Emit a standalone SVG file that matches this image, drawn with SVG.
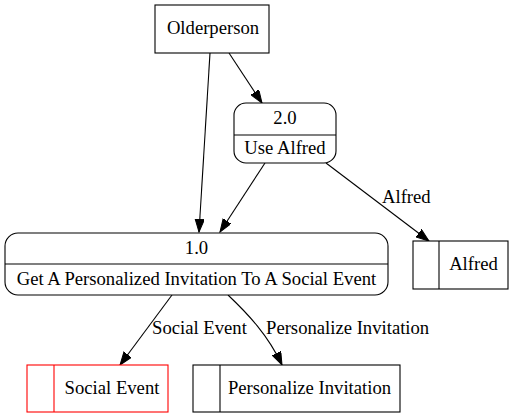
<svg xmlns="http://www.w3.org/2000/svg" width="514" height="419" viewBox="0 0 514 419" font-family="'Liberation Serif', 'DejaVu Serif', serif" font-size="18.67">
<style>
.t{font-family:"Liberation Serif","DejaVu Serif",serif;font-size:18.67px;fill:#000}
.n{fill:#fff;stroke:#000;stroke-width:1.1}
.e{fill:none;stroke:#000;stroke-width:1.1}
.ah{fill:#000;stroke:#000;stroke-width:1}
</style>
<defs>
<marker id="arr" markerWidth="14" markerHeight="10" refX="13" refY="4.7" orient="auto" markerUnits="userSpaceOnUse">
<polygon points="0,0 13,4.7 0,9.4" class="ah"/>
</marker>
</defs>
<rect width="514" height="419" fill="#fff"/>
<g id="connectors">
<path class="e" d="M210,53 L199,232" marker-end="url(#arr)"/>
<path class="e" d="M229,53 L262,103" marker-end="url(#arr)"/>
<path class="e" d="M265,163 L220,232" marker-end="url(#arr)"/>
<path class="e" d="M326,163 L429,241" marker-end="url(#arr)"/>
<text class="t" x="382" y="203">Alfred</text>
<path class="e" d="M172,295 L120,365" marker-end="url(#arr)"/>
<text class="t" x="152" y="334">Social Event</text>
<path class="e" d="M228,295 C248,314 268,335 282,365" marker-end="url(#arr)"/>
<text class="t" x="266" y="334">Personalize Invitation</text>
</g>
<g id="olderperson">
<rect class="n" x="155" y="5" width="114" height="48"/>
<text class="t" x="213" y="34" text-anchor="middle">Olderperson</text>
</g>
<g id="p2">
<rect class="n" x="234" y="103" width="102" height="60" rx="12"/>
<line class="e" x1="234" y1="135" x2="336" y2="135"/>
<text class="t" x="285" y="124" text-anchor="middle">2.0</text>
<text class="t" x="285" y="154" text-anchor="middle">Use Alfred</text>
</g>
<g id="p1">
<rect class="n" x="5" y="233" width="383" height="62" rx="13"/>
<line class="e" x1="5" y1="264" x2="388" y2="264"/>
<text class="t" x="196.5" y="254" text-anchor="middle">1.0</text>
<text class="t" x="196.5" y="285" text-anchor="middle">Get A Personalized Invitation To A Social Event</text>
</g>
<g id="alfred">
<rect class="n" x="413" y="241" width="95" height="48"/>
<line class="e" x1="439" y1="241" x2="439" y2="289"/>
<text class="t" x="473.5" y="270" text-anchor="middle">Alfred</text>
</g>
<g id="socialevent">
<rect class="n" x="27" y="365" width="141" height="47" style="stroke:#f00"/>
<line class="e" x1="54" y1="365" x2="54" y2="412" style="stroke:#f00"/>
<text class="t" x="112" y="394" text-anchor="middle">Social Event</text>
</g>
<g id="personalize">
<rect class="n" x="193" y="365" width="207" height="47"/>
<line class="e" x1="220" y1="365" x2="220" y2="412"/>
<text class="t" x="309.5" y="394" text-anchor="middle">Personalize Invitation</text>
</g>
</svg>
